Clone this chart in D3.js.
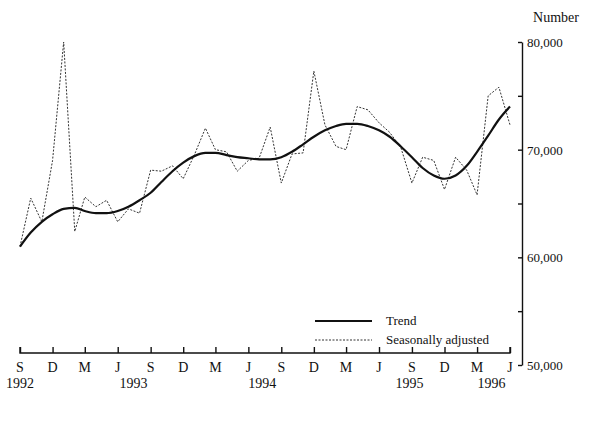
<!DOCTYPE html>
<html>
<head>
<script src="https://cdn.jsdelivr.net/npm/d3@7"></script>
<style>
  body { margin: 0; background: #fff; }
  text { font-family: "Liberation Serif", serif; fill: #111; }
</style>
</head>
<body>
<script>
// months from Sep 1992 to Jun 1996
var months = d3.range(46).map(function (i) { return new Date(1992, 8 + i, 1); });

var trend = [61000, 62300, 63300, 64000, 64500, 64600, 64300, 64100, 64100, 64300, 64700, 65300,
    66000, 67000, 68000, 68800, 69400, 69700, 69700, 69500, 69300, 69200, 69100, 69100,
    69300, 69800, 70500, 71200, 71800, 72200, 72400, 72400, 72200, 71800, 71200, 70300,
    69300, 68300, 67600, 67300, 67600, 68500, 69800, 71300, 72800, 74000];

var seasAdj = [61000, 65500, 63300, 69000, 80000, 62400, 65600, 64700, 65300, 63300, 64500, 64100,
    68100, 68000, 68500, 67300, 69500, 72000, 70000, 69800, 68000, 69000, 69200, 72100,
    66900, 69600, 69700, 77300, 72300, 70300, 70000, 74000, 73700, 72500, 71600, 70200,
    66900, 69300, 69000, 66300, 69300, 68100, 65800, 75000, 75800, 72300];

var monthLetters = ["S", "D", "M", "J"];
var yTicks = [50000, 55000, 60000, 65000, 70000, 75000, 80000];
var yearLabels = [
    { year: "1992", at: new Date(1992, 8, 1) },
    { year: "1993", at: new Date(1993, 6, 15) },
    { year: "1994", at: new Date(1994, 6, 10) },
    { year: "1995", at: new Date(1995, 7, 25) },
    { year: "1996", at: new Date(1996, 3, 10) }
];

var width = 601, height = 421;
var svg = d3.select("body").append("svg")
    .attr("width", width).attr("height", height);

var x = d3.scaleTime()
    .domain([months[0], months[months.length - 1]])
    .range([20, 510]);
var y = d3.scaleLinear()
    .domain([50000, 80000])
    .range([365, 42]);

// x axis
var xAxis = d3.axisTop(x)
    .tickValues(months.filter(function (d, i) { return i % 3 === 0; }))
    .tickSize(6)
    .tickFormat("");
var gx = svg.append("g").attr("transform", "translate(0,353)").call(xAxis);
gx.selectAll("path, line").attr("stroke", "#111").attr("stroke-width", 1.4);
gx.select(".domain").attr("d", "M20,-6V0H510V-6");

svg.append("g").selectAll("text")
    .data(months.filter(function (d, i) { return i % 3 === 0; }))
    .join("text")
    .attr("x", function (d) { return x(d); })
    .attr("y", 372)
    .attr("text-anchor", "middle")
    .attr("font-size", 14)
    .text(function (d, i) { return monthLetters[i % 4]; });

svg.append("g").selectAll("text")
    .data(yearLabels)
    .join("text")
    .attr("x", function (d) { return x(d.at); })
    .attr("y", 388)
    .attr("text-anchor", "middle")
    .attr("font-size", 14)
    .text(function (d) { return d.year; });

// y axis on the right, ticks pointing left, labels to the right
var yAxis = d3.axisRight(y)
    .tickValues(yTicks)
    .tickSize(0)
    .tickFormat("");
var gy = svg.append("g").attr("transform", "translate(522,0)").call(yAxis);
gy.select(".domain").attr("stroke", "#111").attr("stroke-width", 1.4);
gy.selectAll(".tick").append("line")
    .attr("x1", -4).attr("x2", 0)
    .attr("stroke", "#111").attr("stroke-width", 1.4);
gy.selectAll(".tick").filter(function (d) { return d % 10000 === 0; })
    .append("text")
    .attr("x", 5).attr("dy", "0.35em")
    .attr("font-size", 13)
    .attr("text-anchor", "start")
    .text(function (d) { return d3.format(",")(d); });

svg.append("text")
    .attr("x", 556).attr("y", 22)
    .attr("text-anchor", "middle")
    .attr("font-size", 14)
    .text("Number");

// lines
var lineSA = d3.line()
    .x(function (d, i) { return x(months[i]); })
    .y(function (d) { return y(d); });
var lineTrend = d3.line()
    .x(function (d, i) { return x(months[i]); })
    .y(function (d) { return y(d); })
    .curve(d3.curveMonotoneX);

svg.append("path").datum(seasAdj)
    .attr("d", lineSA)
    .attr("fill", "none")
    .attr("stroke", "#333")
    .attr("stroke-width", 1)
    .attr("stroke-dasharray", "2,1.5");

svg.append("path").datum(trend)
    .attr("d", lineTrend)
    .attr("fill", "none")
    .attr("stroke", "#111")
    .attr("stroke-width", 2.2);

// legend
svg.append("line").attr("x1", 315).attr("x2", 372).attr("y1", 321).attr("y2", 321)
    .attr("stroke", "#111").attr("stroke-width", 2.2);
svg.append("text").attr("x", 386).attr("y", 325).attr("font-size", 13).text("Trend");
svg.append("line").attr("x1", 315).attr("x2", 372).attr("y1", 340).attr("y2", 340)
    .attr("stroke", "#333").attr("stroke-width", 1).attr("stroke-dasharray", "2,1.5");
svg.append("text").attr("x", 386).attr("y", 344).attr("font-size", 13).text("Seasonally adjusted");
</script>
</body>
</html>
